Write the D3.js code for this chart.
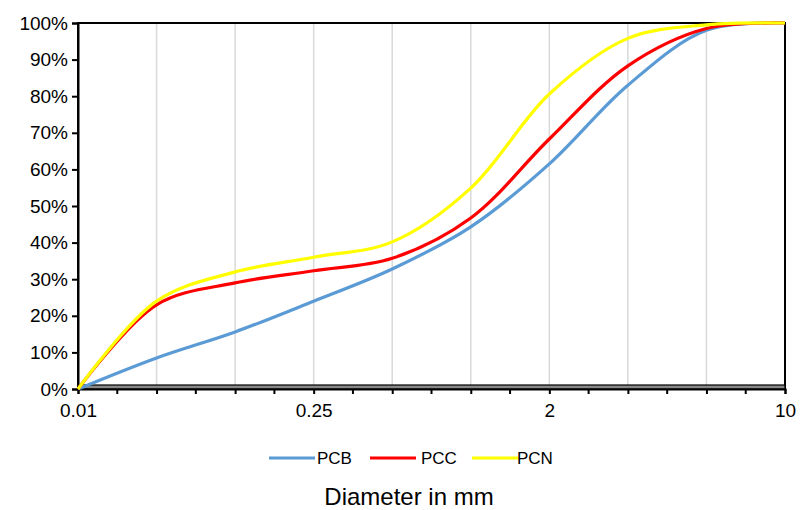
<!DOCTYPE html>
<html>
<head>
<meta charset="utf-8">
<script src="https://cdn.jsdelivr.net/npm/d3@7"></script>
<style>
  body { margin: 0; background: #fff; }
  text { font-family: "Liberation Sans", Arial, sans-serif; fill: #000; }
</style>
</head>
<body>
<div id="chart"></div>
<script>
// sieve sizes (category axis, only every 3rd label shown)
const sizes = ['0.01', '0.063', '0.125', '0.25', '0.5', '1', '2', '4', '8', '10'];
const shownLabels = ['0.01', '0.25', '2', '10'];
const yTicks = [0, 10, 20, 30, 40, 50, 60, 70, 80, 90, 100];

// percent passing
const pcb = [0, 8.5, 15.6, 24, 32.8, 44.3, 61.5, 83, 98, 100];
const pcc = [0, 23, 29, 32.3, 35.7, 46.7, 68.3, 88.3, 98.5, 100];
const pcn = [0, 24, 32, 36, 40.2, 54.9, 80.6, 95.8, 99.5, 100];

const seriesNames = ['PCB', 'PCC', 'PCN'];
const seriesColors = ['#5B9BD5', '#FF0000', '#FFFF00'];
const seriesData = [pcb, pcc, pcn];

const width = 805, height = 510;
const plotL = 78, plotR = 785, plotT = 23, plotB = 389;

const svg = d3.select('#chart')
  .append('svg')
    .attr('width', width)
    .attr('height', height);

const x = d3.scalePoint().domain(sizes).range([plotL, plotR]);
const y = d3.scaleLinear().domain([0, 100]).range([plotB, plotT]);

// vertical gridlines
svg.append('g')
  .selectAll('line')
  .data(sizes.slice(1, -1))
  .join('line')
    .attr('x1', d => x(d)).attr('x2', d => x(d))
    .attr('y1', plotT).attr('y2', plotB)
    .attr('stroke', '#d9d9d9')
    .attr('stroke-width', 1.5);

// minor ticks halfway between categories
const step = x.step();
const minor = sizes.slice(0, -1).map(d => x(d) + step / 2);

// frame
svg.append('rect')
  .attr('x', plotL).attr('y', plotT)
  .attr('width', plotR - plotL).attr('height', plotB - plotT)
  .attr('fill', 'none')
  .attr('stroke', '#000')
  .attr('stroke-width', 2);

// y axis
const yAxis = svg.append('g')
  .attr('transform', `translate(${plotL},0)`)
  .call(d3.axisLeft(y).tickValues(yTicks).tickFormat(d => d + '%').tickSize(6).tickPadding(4));
yAxis.select('.domain').attr('stroke', '#000').attr('stroke-width', 2);
yAxis.selectAll('.tick line').attr('stroke', '#000').attr('stroke-width', 2);
yAxis.selectAll('text').attr('font-size', 19).style('font-family', '"Liberation Sans", Arial, sans-serif');

// thick bottom axis band
svg.append('rect')
  .attr('x', plotL).attr('y', plotB - 4)
  .attr('width', plotR - plotL).attr('height', 4)
  .attr('fill', '#888')
  .attr('stroke', '#000')
  .attr('stroke-width', 1.2);

// x axis
const xAxis = svg.append('g')
  .attr('transform', `translate(0,${plotB})`)
  .call(d3.axisBottom(x).tickFormat(d => shownLabels.includes(d) ? d : '').tickSize(5).tickPadding(10));
xAxis.select('.domain').attr('stroke', '#000').attr('stroke-width', 2);
xAxis.selectAll('.tick line').attr('stroke', '#000').attr('stroke-width', 2);
xAxis.selectAll('text').attr('font-size', 19).style('font-family', '"Liberation Sans", Arial, sans-serif');

svg.append('g')
  .selectAll('line')
  .data(minor)
  .join('line')
    .attr('x1', d => d).attr('x2', d => d)
    .attr('y1', plotB).attr('y2', plotB + 5)
    .attr('stroke', '#000')
    .attr('stroke-width', 2);

// lines
const line = d3.line()
  .x((d, i) => x(sizes[i]))
  .y(d => y(d))
  .curve(d3.curveCatmullRom.alpha(0.5));

svg.append('g')
  .selectAll('path')
  .data(seriesData)
  .join('path')
    .attr('d', d => line(d))
    .attr('fill', 'none')
    .attr('stroke', (d, i) => seriesColors[i])
    .attr('stroke-width', 3.2)
    .attr('stroke-linejoin', 'round');

// legend
const legendLineX = [269, 370, 472];
const legendTextX = [317, 421, 517];
const legend = svg.append('g')
  .selectAll('g')
  .data(seriesNames)
  .join('g');
legend.append('line')
  .attr('x1', (d, i) => legendLineX[i]).attr('x2', (d, i) => legendLineX[i] + 46)
  .attr('y1', 458).attr('y2', 458)
  .attr('stroke', (d, i) => seriesColors[i])
  .attr('stroke-width', 3.2);
legend.append('text')
  .attr('x', (d, i) => legendTextX[i])
  .attr('y', 458)
  .attr('dy', '0.35em')
  .attr('font-size', 17)
  .text(d => d);

// axis title
svg.append('text')
  .attr('x', 409)
  .attr('y', 505)
  .attr('text-anchor', 'middle')
  .attr('font-size', 24)
  .text('Diameter in mm');
</script>
</body>
</html>
